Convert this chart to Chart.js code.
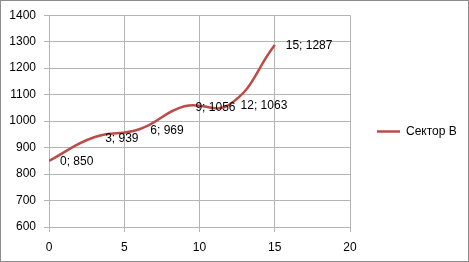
<!DOCTYPE html>
<html>
<head>
<meta charset="utf-8">
<script src="https://cdn.jsdelivr.net/npm/chart.js@4"></script>
<style>
html,body{margin:0;padding:0;background:#fff;}
#wrap{width:469px;height:262px;position:relative;}
</style>
</head>
<body>
<div id="wrap"><canvas id="c" width="469" height="262"></canvas></div>
<script>
const seriesName = "Сектор В";
const xValues = [0, 3, 6, 9, 12, 15];
const yValues = [850, 939, 969, 1056, 1063, 1287];
const xTicks = [0, 5, 10, 15, 20];
const yTicks = [600, 700, 800, 900, 1000, 1100, 1200, 1300, 1400];

const FONT = "'Liberation Sans', Arial, sans-serif";
const GRID = '#b4b4b4';
const LINE = '#be4b48';

const points = xValues.map((x, i) => ({x: x, y: yValues[i]}));

const frame = {
  id: 'frame',
  beforeDraw(chart) {
    const ctx = chart.ctx;
    ctx.save();
    ctx.fillStyle = '#fff';
    ctx.fillRect(0, 0, chart.width, chart.height);
    ctx.restore();
  },
  afterDraw(chart) {
    const ctx = chart.ctx;
    ctx.save();
    ctx.strokeStyle = '#8c8c8c';
    ctx.lineWidth = 1;
    ctx.strokeRect(0.5, 0.5, chart.width - 1, chart.height - 1);
    ctx.restore();
  }
};

const dataLabels = {
  id: 'dataLabels',
  afterDatasetsDraw(chart) {
    const ctx = chart.ctx;
    const meta = chart.getDatasetMeta(0);
    ctx.save();
    ctx.font = '12px ' + FONT;
    ctx.fillStyle = '#000';
    ctx.textAlign = 'left';
    ctx.textBaseline = 'middle';
    meta.data.forEach((el, i) => {
      const d = chart.data.datasets[0].data[i];
      ctx.fillText(d.x + '; ' + d.y, el.x + 11, el.y + 1);
    });
    ctx.restore();
  }
};

const legendFix = {
  id: 'legendFix',
  beforeLayout(chart) {
    const lg = chart.legend;
    if (lg && !lg._patched) {
      const orig = lg.fit;
      lg.fit = function () {
        orig.call(this);
        this.width = 119;
      };
      lg._patched = true;
    }
  },
  afterLayout(chart) {
    const lg = chart.legend;
    if (lg) { lg.top -= 7; lg.bottom -= 7; }
  }
};

new Chart(document.getElementById('c'), {
  type: 'line',
  data: {
    datasets: [{
      label: seriesName,
      data: points,
      borderColor: LINE,
      backgroundColor: LINE,
      borderWidth: 2.5,
      pointRadius: 0,
      pointHoverRadius: 0,
      pointStyle: 'line',
      tension: 0.45,
      fill: false
    }]
  },
  options: {
    responsive: false,
    animation: false,
    events: [],
    layout: {padding: {top: 15, left: 0, right: 0, bottom: 0}},
    scales: {
      x: {
        type: 'linear',
        min: 0, max: 20,
        afterBuildTicks(s) { s.ticks = xTicks.map(v => ({value: v})); },
        afterFit(s) { s.height = 35; },
        grid: {color: GRID, lineWidth: 1, tickLength: 5, tickColor: GRID},
        border: {color: GRID, width: 1},
        ticks: {font: {family: FONT, size: 12}, color: '#000', padding: 8, maxRotation: 0,
                callback: v => String(v)}
      },
      y: {
        min: 600, max: 1400,
        afterBuildTicks(s) { s.ticks = yTicks.map(v => ({value: v})); },
        afterFit(s) { s.width = 49; },
        grid: {color: GRID, lineWidth: 1, tickLength: 5, tickColor: GRID},
        border: {color: GRID, width: 1},
        ticks: {font: {family: FONT, size: 12}, color: '#000', padding: 8,
                callback: v => String(v)}
      }
    },
    plugins: {
      legend: {
        position: 'right',
        align: 'center',
        labels: {
          usePointStyle: true,
          pointStyleWidth: 23,
          boxHeight: 12,
          padding: 27,
          color: '#000',
          font: {family: FONT, size: 12}
        }
      },
      tooltip: {enabled: false}
    }
  },
  plugins: [frame, dataLabels, legendFix]
});
</script>
</body>
</html>
